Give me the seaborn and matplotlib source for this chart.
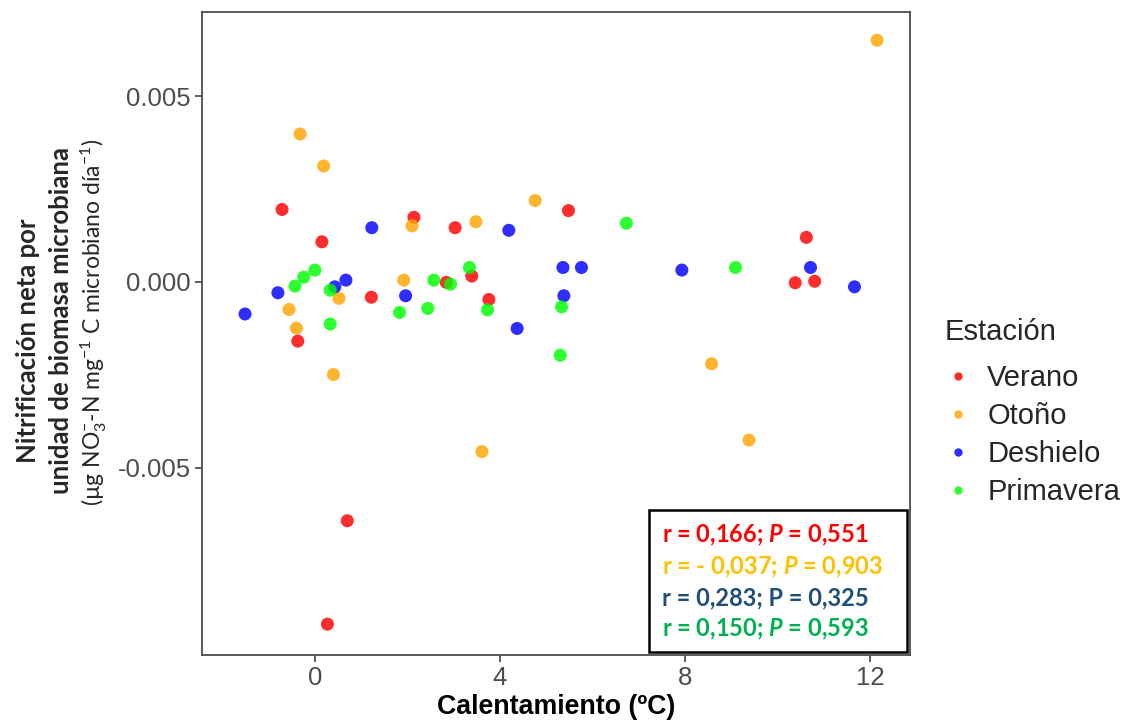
import numpy as np
import pandas as pd
import matplotlib
matplotlib.use("Agg")
import matplotlib.pyplot as plt
import seaborn as sns
from matplotlib.patches import Rectangle

# ---------------- data ----------------
verano_x = [-0.71, 2.14, 3.03, 0.15, -0.37, 1.22, 2.84, 3.39, 3.76, 0.70, 0.27, 5.48, 10.62, 10.38, 10.80]
verano_y = [0.00195, 0.00174, 0.00146, 0.00108, -0.00159, -0.00041, -0.00001, 0.00016, -0.00047,
            -0.00642, -0.00920, 0.00192, 0.00120, -0.00002, 0.00002]

otono_x = [2.10, 3.48, 4.76, -0.56, -0.40, 0.40, 0.52, 1.92, -0.32, 0.19, 3.61, 8.57, 9.38, 12.15]
otono_y = [0.00151, 0.00162, 0.00219, -0.00074, -0.00124, -0.00249, -0.00044, 0.00005, 0.00398,
           0.00312, -0.00456, -0.00220, -0.00425, 0.00650]

deshielo_x = [1.23, 4.19, -0.80, -1.51, 0.43, 0.67, 1.96, 4.37, 5.36, 5.76, 5.38, 7.93, 10.71, 11.66]
deshielo_y = [0.00146, 0.00139, -0.00029, -0.00086, -0.00013, 0.00005, -0.00037, -0.00125, 0.00039,
              0.00039, -0.00037, 0.00032, 0.00039, -0.00013]

primavera_x = [0.00, -0.24, -0.43, 0.33, 0.33, 1.83, 2.57, 2.44, 2.93, 3.34, 3.73, 6.73, 5.33, 5.30, 9.09]
primavera_y = [0.00032, 0.00013, -0.00011, -0.00113, -0.00022, -0.00082, 0.00005, -0.00071, -0.00006,
               0.00039, -0.00075, 0.00158, -0.00067, -0.00197, 0.00039]

estaciones = ["Verano", "Otoño", "Deshielo", "Primavera"]
x_ticks = [0, 4, 8, 12]
y_ticks = [-0.005, 0.0, 0.005]

stats_lines = [
    ("r = 0,166; $P$ = 0,551", "#FF0000"),
    ("r = - 0,037; $P$ = 0,903", "#FFC000"),
    ("r = 0,283; P = 0,325", "#1F4E79"),
    ("r = 0,150; $P$ = 0,593", "#00B050"),
]

df = pd.concat([
    pd.DataFrame({"x": verano_x, "y": verano_y, "Estación": "Verano"}),
    pd.DataFrame({"x": otono_x, "y": otono_y, "Estación": "Otoño"}),
    pd.DataFrame({"x": deshielo_x, "y": deshielo_y, "Estación": "Deshielo"}),
    pd.DataFrame({"x": primavera_x, "y": primavera_y, "Estación": "Primavera"}),
], ignore_index=True)

palette = {"Verano": "#FF0000", "Otoño": "#FFA500", "Deshielo": "#0000FF", "Primavera": "#00FF00"}

# ---------------- style ----------------
sns.set_style("white")
plt.rcParams["font.family"] = ["Liberation Sans", "DejaVu Sans"]
plt.rcParams["axes.unicode_minus"] = False
plt.rcParams["mathtext.fontset"] = "custom"
plt.rcParams["mathtext.rm"] = "Lato"
plt.rcParams["mathtext.it"] = "Lato:italic:bold"
plt.rcParams["mathtext.bf"] = "Lato:bold"

W, H = 1134, 722
fig = plt.figure(figsize=(W / 100, H / 100), dpi=100)
ax = fig.add_axes([202 / W, 1 - 655 / H, (910 - 202) / W, (655 - 12) / H])

sns.scatterplot(data=df, x="x", y="y", hue="Estación", hue_order=estaciones,
                palette=palette, s=88, linewidth=0, alpha=0.82, ax=ax, legend=True)

ax.set_xlim(-2.44, 12.86)
ax.set_ylim(-0.01003, 0.00726)
ax.set_xticks(x_ticks)
ax.set_xticklabels([str(t) for t in x_ticks])
ax.set_yticks(y_ticks)
ax.set_yticklabels([f"{t:.3f}" for t in y_ticks])
ax.tick_params(axis="both", which="major", length=5, width=1.1, color="#333333",
               labelsize=18.5, labelcolor="#4D4D4D", pad=3, direction="out")
ax.tick_params(axis="both", bottom=True, left=True)
for sp in ax.spines.values():
    sp.set_color("#4D4D4D")
    sp.set_linewidth(1.3)

ax.set_xlabel("Calentamiento (ºC)", fontsize=19.3, fontweight="bold", color="black", labelpad=3)
ax.set_ylabel("")

# Y label: three lines
fig.text(28 / W, 1 - 341 / H, "Nitrificación neta por", rotation=90, ha="center", va="center",
         fontsize=18.5, fontweight="bold", family="Lato")
fig.text(61 / W, 1 - 320 / H, "unidad de biomasa microbiana", rotation=90, ha="center", va="center",
         fontsize=18.5, fontweight="bold", family="Lato")
fig.text(94 / W, 1 - 322 / H, r"(µg NO$_3^{-}$-N mg$^{-1}$ C microbiano día$^{-1}$)", rotation=90,
         ha="center", va="center", fontsize=16.5, family="Lato")

# Legend
handles, labels = ax.get_legend_handles_labels()
for h in handles:
    try:
        h.set_markersize(6)
        h.set_alpha(0.82)
    except Exception:
        pass
leg = ax.legend(handles, labels, title="Estación", loc="upper left",
                bbox_to_anchor=(945 / W, 1 - 318 / H), bbox_transform=fig.transFigure,
                frameon=False, fontsize=21, title_fontsize=21, borderpad=0, borderaxespad=0,
                handlelength=0.9, handletextpad=0.55, labelspacing=0.34, alignment="left")
leg._legend_box.sep = 13

# Stats box
x0 = (649 - 202) / (910 - 202)
x1 = (907 - 202) / (910 - 202)
y0 = (655 - 652) / (655 - 12)
y1 = (655 - 510) / (655 - 12)
ax.add_patch(Rectangle((x0, y0), x1 - x0, y1 - y0, transform=ax.transAxes,
                       facecolor="white", edgecolor="black", linewidth=1.8, zorder=5))
line_centers = [535, 567, 598, 629]
for (txt, col), yc in zip(stats_lines, line_centers):
    fig.text(662 / W, 1 - yc / H, txt, color=col, fontsize=17, fontweight="bold",
             family="Lato", ha="left", va="center", zorder=6)

fig.savefig("out.png", dpi=100, facecolor="white")
